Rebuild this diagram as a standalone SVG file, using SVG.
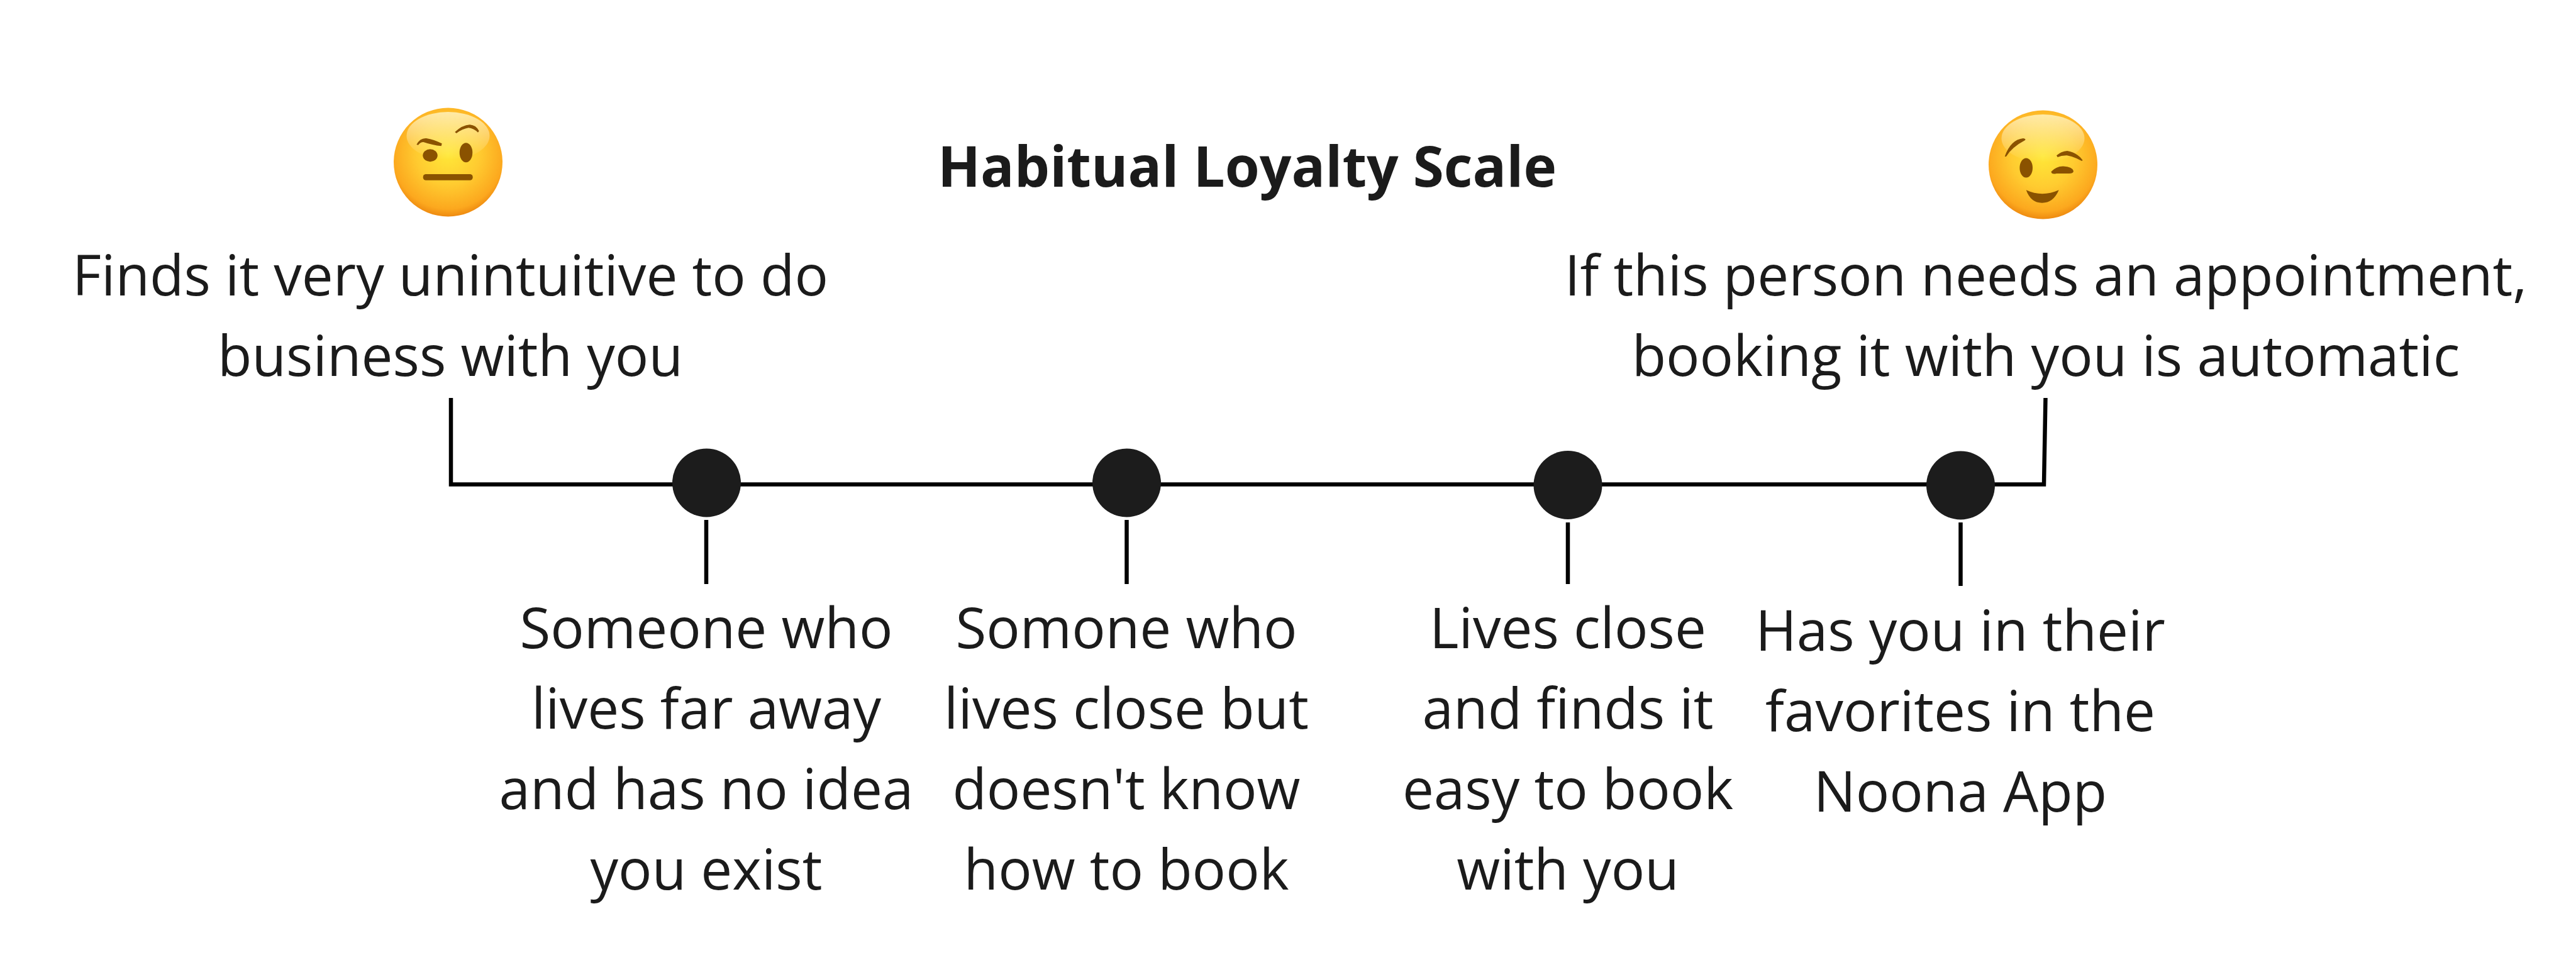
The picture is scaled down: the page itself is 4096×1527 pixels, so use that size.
<svg xmlns="http://www.w3.org/2000/svg" width="4096" height="1527" viewBox="0 0 4096 1527">
<style>
text{font-family:"Open Sans","Noto Sans",sans-serif;font-size:89px;fill:#1b1b1b;text-anchor:middle}
.title{font-weight:700}
.ln{fill:none;stroke:#000;stroke-width:6.500}
.dot{fill:#1c1c1c}
.br{fill:#8a5200}
</style>
<defs>
<radialGradient id="face" cx="0.5" cy="0.42" r="0.58">
<stop offset="0" stop-color="#ffe838"/><stop offset="0.5" stop-color="#ffcb30"/><stop offset="0.88" stop-color="#fca81e"/><stop offset="1" stop-color="#ee8a10"/>
</radialGradient>
<linearGradient id="shine" x1="0" y1="0" x2="0" y2="1">
<stop offset="0" stop-color="#fff6c8" stop-opacity="0.8"/><stop offset="1" stop-color="#fff6c8" stop-opacity="0"/>
</linearGradient>
</defs>
<rect width="4096" height="1527" fill="#fff"/>
<g id="connectors">
<path class="ln" d="M717 633V770.500H3250L3252.500 633"/>
<path class="ln" d="M1123 827V929"/>
<path class="ln" d="M1791.500 827V929"/>
<path class="ln" d="M2493 831V929"/>
<path class="ln" d="M3117.500 831V932"/>
</g>
<g id="title"><text class="title" x="1983" y="297">Habitual Loyalty Scale</text></g>
<g id="emoji-left">
<circle cx="712.500" cy="258" r="86.500" fill="url(#face)"/>
<ellipse cx="712.500" cy="216" rx="66" ry="38" fill="url(#shine)"/>
<path class="br" d="M662.300 230Q668 219 678 220Q690 222 702.700 228.300L701.700 232.300Q688 231 673.300 226Q668 226 665 230.700Z"/>
<path class="br" d="M723.300 210Q735 199 747 198.300Q757 199 761.700 208.300L760 210.700Q753 204 745 203.300Q735 205 725.700 212Z"/>
<ellipse class="br" cx="684" cy="247.300" rx="11.700" ry="10"/>
<ellipse class="br" cx="741" cy="242.700" rx="10.300" ry="15.500"/>
<rect class="br" x="672.700" y="277" width="79" height="9.700" rx="4.500"/>
</g>
<g id="emoji-right">
<circle cx="3248.500" cy="262" r="86.500" fill="url(#face)"/>
<ellipse cx="3248.500" cy="220" rx="66" ry="38" fill="url(#shine)"/>
<path class="br" d="M3187.700 249Q3197 222 3217 220Q3222 221 3220 223Q3199 234 3190 249Z"/>
<path class="br" d="M3270 247.300Q3277 241 3287 240Q3302 242 3311.700 255L3310 256Q3298 249 3286.700 247.300Q3278 247 3271.700 250Z"/>
<ellipse class="br" cx="3221.700" cy="267" rx="10.300" ry="15.500"/>
<path class="br" d="M3261.500 273Q3270 264 3281 264.500Q3295 265 3297 272Q3297 276 3290 276L3270 276Q3262 278 3261.500 273Z"/>
<path class="br" d="M3221.700 302.300Q3247 314 3273.700 302.300Q3265 322.700 3247 322.700Q3229 322.700 3221.700 302.300Z"/>
</g>
<g id="label-left"><text x="716" y="470">Finds it very unintuitive to do</text><text x="716" y="598">business with you</text></g>
<g id="label-right"><text x="3253" y="470">If this person needs an appointment,</text><text x="3253" y="598">booking it with you is automatic</text></g>
<g id="node-1"><circle class="dot" cx="1123.500" cy="768" r="54.500"/>
<text x="1123" y="1031">Someone who</text><text x="1123" y="1159">lives far away</text><text x="1123" y="1287">and has no idea</text><text x="1123" y="1415">you exist</text></g>
<g id="node-2"><circle class="dot" cx="1791.500" cy="768" r="54.500"/>
<text x="1791" y="1031">Somone who</text><text x="1791" y="1159">lives close but</text><text x="1791" y="1287">doesn't know</text><text x="1791" y="1415">how to book</text></g>
<g id="node-3"><circle class="dot" cx="2493" cy="771.500" r="54.500"/>
<text x="2493" y="1031">Lives close</text><text x="2493" y="1159">and finds it</text><text x="2493" y="1287">easy to book</text><text x="2493" y="1415">with you</text></g>
<g id="node-4"><circle class="dot" cx="3117.500" cy="772" r="54.500"/>
<text x="3117" y="1035">Has you in their</text><text x="3117" y="1163">favorites in the</text><text x="3117" y="1291">Noona App</text></g>
</svg>
